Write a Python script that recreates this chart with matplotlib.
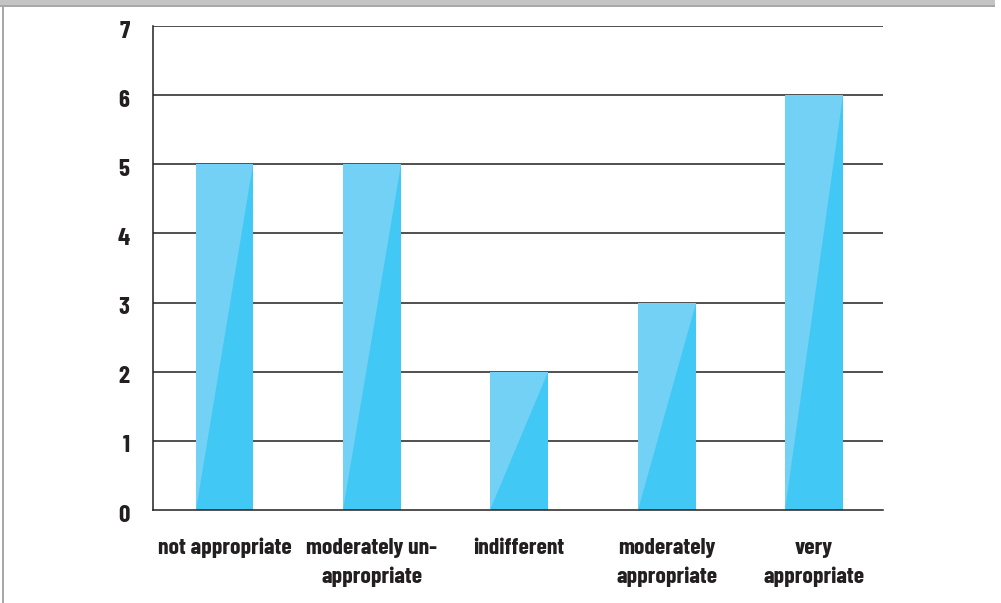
import matplotlib
matplotlib.use("Agg")
import matplotlib.pyplot as plt
import matplotlib.transforms as mtransforms
from matplotlib.patches import Polygon, Rectangle

categories = ["not appropriate", "moderately un-\nappropriate", "indifferent",
              "moderately\nappropriate", "very\nappropriate"]
counts = [5, 5, 2, 3, 6]
yticks = [0, 1, 2, 3, 4, 5, 6, 7]

LIGHT = "#74d1f6"
DARK = "#42c8f4"
INK = "#231f20"
FONT = ["Barlow Condensed", "Roboto Condensed", "DejaVu Sans"]

fig = plt.figure(figsize=(10.01, 6.03), dpi=100)
fig.patch.set_facecolor("white")

# page frame: grey band on top, thin rule down the left side
fig.patches.append(Rectangle((0, 1 - 5 / 603), 995 / 1001, 5 / 603, transform=fig.transFigure,
                             facecolor="#c4c4c4", edgecolor="none"))
fig.patches.append(Rectangle((0, 1 - 7 / 603), 995 / 1001, 2 / 603, transform=fig.transFigure,
                             facecolor="#a8a8a8", edgecolor="none"))
fig.patches.append(Rectangle((2 / 1001, 0), 2 / 1001, 1 - 5 / 603, transform=fig.transFigure,
                             facecolor="#a8a8a8", edgecolor="none"))

ax = fig.add_axes([153 / 1001, 1 - 510 / 603, 730 / 1001, 484 / 603])
ax.set_xlim(-0.485, 4.467)
ax.set_ylim(0, 7)

for y in yticks[1:]:
    ax.axhline(y, color=INK, lw=1.1, zorder=1)

width = 0.393
for i, v in enumerate(counts):
    left, right = i - width / 2, i + width / 2
    ax.add_patch(Rectangle((left, 0), width, v, facecolor=DARK, edgecolor="none", zorder=2))
    ax.add_patch(Polygon([(left, 0), (left, v), (right, v)], closed=True,
                         facecolor=LIGHT, edgecolor="none", zorder=3))

for side in ["top", "right"]:
    ax.spines[side].set_visible(False)
for side in ["left", "bottom"]:
    ax.spines[side].set_color(INK)
    ax.spines[side].set_linewidth(1.1)

ax.set_yticks(yticks)
ax.set_yticklabels([str(t) for t in yticks], fontfamily=FONT, fontweight="bold",
                   fontsize=18, color=INK)
ax.set_xticks(range(len(categories)))
ax.set_xticklabels(categories, fontfamily=FONT, fontweight="bold", fontsize=17,
                   color=INK, linespacing=1.5)
ax.tick_params(axis="y", length=0, pad=17)
ax.tick_params(axis="x", length=0, pad=20)

# y labels sit slightly below their gridlines
shift = mtransforms.ScaledTranslation(0, -3 / 100, fig.dpi_scale_trans)
for lab in ax.get_yticklabels():
    lab.set_transform(lab.get_transform() + shift)

fig.savefig("out.png", dpi=100, facecolor="white")
